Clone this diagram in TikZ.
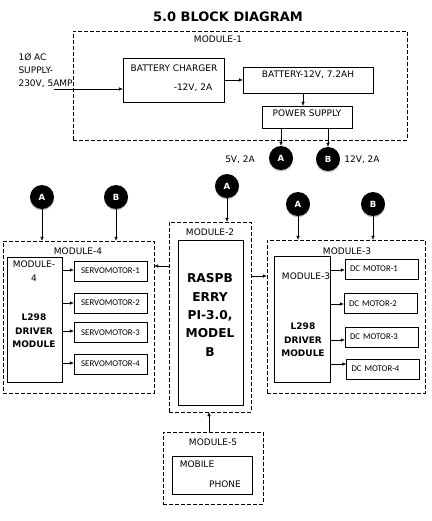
\documentclass[tikz,border=0pt]{standalone}
\usepackage{fontspec}
\setmainfont{DejaVu Sans}
\newfontfamily\motorfont{Carlito}
\usetikzlibrary{arrows.meta,shadows}

\tikzset{
  modbox/.style={draw, dash pattern=on 4pt off 2pt, inner sep=0pt},
  plainbox/.style={draw, inner sep=0pt},
  motorbox/.style={draw, inner sep=0pt, minimum width=73pt, minimum height=20pt,
    font=\motorfont\fontsize{8.8}{10}\selectfont},
  tag/.style={circle, fill=black, text=white, minimum size=24pt, inner sep=0pt,
    font=\bfseries\fontsize{8.5}{10}\selectfont,
    drop shadow={shadow xshift=0pt, shadow yshift=-1.3pt, fill=gray!55, opacity=1}},
  bigtxt/.style={align=center, font=\bfseries\fontsize{9}{13.5}\selectfont}
}

\begin{document}
\begin{tikzpicture}[x=1pt, y=-1pt, font=\fontsize{9}{10}\selectfont,
    >={Latex[length=4pt,width=3.5pt]}]

        \useasboundingbox (0,0) rectangle (431,521);

        \node[font=\bfseries\fontsize{13}{15}\selectfont] (title) at (228,17) {5.0 BLOCK DIAGRAM};

        \begin{scope}[every node/.style={modbox}]
          \node[minimum width=334pt, minimum height=109pt] (m1) at (240,85.5) {};
          \node[minimum width=151pt, minimum height=152pt] (m4) at (78.5,317) {};
          \node[minimum width=82pt, minimum height=190pt]  (m2) at (210,317) {};
          \node[minimum width=158pt, minimum height=153pt] (m3) at (346,316.5) {};
          \node[minimum width=100pt, minimum height=72pt]  (m5) at (213,468) {};
        \end{scope}

        \begin{scope}[every node/.style={plainbox}]
          \node[minimum width=101pt, minimum height=44pt]  (charger) at (173.5,80) {};
          \node[minimum width=130pt, minimum height=26pt]  (battery) at (308,80) {};
          \node[minimum width=90pt, minimum height=22pt]   (power)   at (307,117) {};
          \node[minimum width=55pt, minimum height=125pt]  (drv4)    at (34.5,319.5) {};
          \node[minimum width=65pt, minimum height=165pt]  (rpi)     at (210.5,322.5) {};
          \node[minimum width=56pt, minimum height=126pt]  (drv3)    at (302,319) {};
          \node[minimum width=80pt, minimum height=38pt]   (phone)   at (212,475) {};
        \end{scope}

        \begin{scope}[every node/.style={motorbox}]
          \node (s1) at (110.5,271)   {SERVOMOTOR-1};
          \node (s2) at (110.5,303)   {SERVOMOTOR-2};
          \node (s3) at (110.5,332.5) {SERVOMOTOR-3};
          \node (s4) at (110.5,364)   {SERVOMOTOR-4};
        \end{scope}

        \begin{scope}[every node/.style={motorbox, text width=63pt, align=left, inner xsep=5pt}]
          \node (d1) at (381.5,269)   {DC MOTOR-1};
          \node (d2) at (380.5,303.5) {DC MOTOR-2};
          \node (d3) at (381.5,337)   {DC MOTOR-3};
          \node (d4) at (383,369)     {DC MOTOR-4};
        \end{scope}

        \begin{scope}[every node/.style={tag}]
          \node (a1) at (281,158) {A};
          \node (b1) at (328,159) {B};
          \node (a4) at (42,197)  {A};
          \node (b4) at (116,197) {B};
          \node (a2) at (227,186) {A};
          \node (a3) at (298,204) {A};
          \node (b3) at (373,204) {B};
        \end{scope}

        \node (m1txt) at (218,39) {MODULE-1};
        \node[anchor=north west, align=left, font=\fontsize{9}{13}\selectfont] (acsup) at (15,50)
          {1Ø AC\\SUPPLY-\\230V, 5AMP};
        \node (chtxt1) at (174,68) {BATTERY CHARGER};
        \node (chtxt2) at (193,88) {-12V, 2A};
        \node (battxt) at (308,75) {BATTERY-12V, 7.2AH};
        \node (powtxt) at (307,113) {POWER SUPPLY};
        \node (v5)  at (240,160) {5V, 2A};
        \node (v12) at (362,160) {12V, 2A};

        \node (m4txt) at (78,251) {MODULE-4};
        \node[align=center, font=\fontsize{9}{14}\selectfont] (d4mod) at (34,271) {MODULE-\\4};
        \node[bigtxt] (d4name) at (34,331) {L298\\DRIVER\\MODULE};

        \node (m2txt) at (210,232) {MODULE-2};
        \node[align=center, font=\bfseries\fontsize{12.2}{18.4}\selectfont] (rpitxt) at (210,315)
          {RASPB\\ERRY\\PI-3.0,\\MODEL\\B};

        \node (m3txt) at (347,251) {MODULE-3};
        \node (d3mod) at (306,276) {MODULE-3};
        \node[bigtxt] (d3name) at (303,340) {L298\\DRIVER\\MODULE};

        \node (m5txt) at (213,442) {MODULE-5};
        \node (mobtxt) at (197,464) {MOBILE};
        \node (photxt) at (225,484) {PHONE};

        \coordinate (acin) at (54,89);

        \begin{scope}[every edge/.style={draw, ->}]
          \path (acin) edge (acin -| charger.west);
          \path (charger) edge (battery);
          \path (battery.south -| 303,0) edge (power.north -| 303,0);
          \path (power.south -| a1) edge (a1.north);
          \path (power.south -| b1) edge (b1.north);

          \path (a4.south) edge (a4 |- m4.north);
          \path (b4.south) edge (b4 |- m4.north);
          \path (a2.south) edge (a2 |- m2.north);
          \path (a3.south) edge (a3 |- m3.north);
          \path (b3.south) edge (b3 |- m3.north);

          \path (m2.west |- 0,266) edge (m4.east |- 0,266);
          \path (m2.east |- 0,276) edge (m3.west |- 0,276);
          \path (m5.north -| 209,0) edge (m2.south -| 209,0);

          \path (drv4.east |- 0,270) edge (s1.west |- 0,270);
          \path (drv4.east |- s2) edge (s2.west);
          \path (drv4.east |- 0,331) edge (s3.west |- 0,331);
          \path (drv4.east |- 0,363) edge (s4.west |- 0,363);

          \path (drv3.east |- 0,270) edge (d1.west |- 0,270);
          \path (drv3.east |- 0,304) edge (d2.west |- 0,304);
          \path (drv3.east |- 0,340) edge (d3.west |- 0,340);
          \path (drv3.east |- 0,364) edge (d4.west |- 0,364);
        \end{scope}

      \end{tikzpicture}
\end{document}
